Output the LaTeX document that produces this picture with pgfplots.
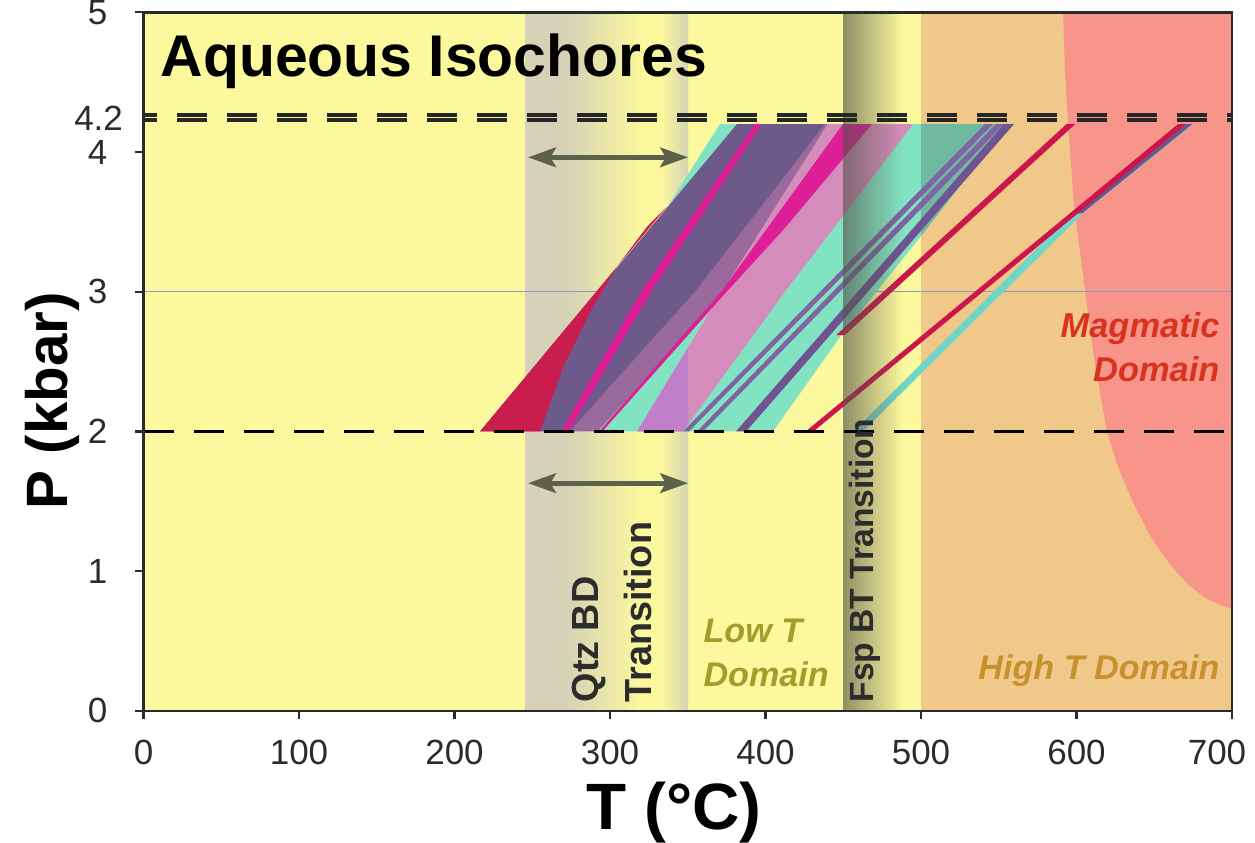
\documentclass[border=0pt]{standalone}
\usepackage{fontspec}
\setmainfont{Liberation Sans}
\usepackage{pgfplots}
\pgfplotsset{compat=1.18}
\usetikzlibrary{arrows.meta}

\definecolor{bgy}{HTML}{FBF89D}
\definecolor{qgray}{HTML}{D5D2B7}
\definecolor{qgrayb}{HTML}{D6D3B5}
\definecolor{hiT}{HTML}{F0C98A}
\definecolor{magm}{HTML}{F8958A}
\definecolor{fspc}{HTML}{55534A}
\definecolor{redw}{HTML}{C91D4D}
\definecolor{purg}{HTML}{6D5A8A}
\definecolor{mage}{HTML}{DD1E96}
\definecolor{mauv}{HTML}{9A6A9C}
\definecolor{cpink}{HTML}{D48DBB}
\definecolor{lilac}{HTML}{C27FC9}
\definecolor{mint}{HTML}{82E3C2}
\definecolor{teal2}{HTML}{6FB9A3}
\definecolor{purl}{HTML}{7E64A2}
\definecolor{purd}{HTML}{6E5490}
\definecolor{redl}{HTML}{CC154B}
\definecolor{cyanl}{HTML}{72D6C6}
\definecolor{gline}{HTML}{8D9BC4}
\definecolor{axc}{HTML}{2A2A2A}
\definecolor{tickc}{HTML}{2B2B2B}
\definecolor{arrc}{HTML}{5D614A}
\definecolor{lowc}{HTML}{A39D2B}
\definecolor{hightc}{HTML}{C8912E}
\definecolor{magc}{HTML}{D9331F}
\definecolor{txtd}{HTML}{2C2C2C}

\begin{document}
\begin{tikzpicture}
\begin{axis}[name=ax, at={(0,0)}, anchor=south west,
  width=391.86pt, height=251.5pt, scale only axis,
  xmin=0, xmax=700, ymin=0, ymax=5,
  xtick={0,100,200,300,400,500,600},
  extra x ticks={700}, extra x tick labels={700},
  extra x tick style={xticklabel style={xshift=-5.4pt}},
  ytick={0,1,2,3,4,5},
  extra y ticks={4.244}, extra y tick labels={4.2},
  extra y tick style={major tick length=0pt, yticklabel style={xshift=2.6pt}},
  tick align=outside, xtick pos=bottom, ytick pos=left,
  major tick length=3pt,
  tick style={line width=0.8pt, color=axc},
  axis line style={line width=0.9pt, color=axc},
  /pgf/number format/assume math mode=true,
  tick label style={font=\fontsize{12.6}{14}\selectfont, text=tickc},
  xticklabel style={anchor=base, yshift=-16.44pt},
  yticklabel style={anchor=east, inner sep=0pt, xshift=-9.8pt},
  clip=false, axis on top=true,
]
% ---------- background domains ----------
\addplot[draw=none, fill=bgy] coordinates {(0,0) (0,5) (500,5) (500,0)} --cycle;
\addplot[draw=none, fill=qgray] coordinates {(245.3,0) (245.3,5) (272,5) (272,0)} --cycle;
\addplot[draw=none, left color=qgray, right color=bgy] coordinates {(272,0) (272,5) (320,5) (320,0)} --cycle;
\addplot[draw=none, left color=bgy, right color=qgrayb] coordinates {(333,0) (333,5) (350.2,5) (350.2,0)} --cycle;
\addplot[draw=none, fill=hiT] coordinates {(500,0) (500,5) (700,5) (700,0)} --cycle;
\addplot[draw=none, fill=magm] coordinates {(591.3,5) (592.5,4.6) (594.5,4.2) (598.5,3.6) (605.6,3) (611.5,2.5) (619.6,2) (626.5,1.75) (636,1.5) (647.5,1.25) (660,1.05) (672,0.9) (684,0.8) (693,0.755) (700,0.73) (700,5)} --cycle;
% grid line at 3 kbar
\addplot[color=gline, line width=0.55pt] coordinates {(0,3) (700,3)};
% ---------- isochore bands ----------
\addplot[draw=none, fill=mint] coordinates {(291.6,2) (404.8,2) (447.9,2.676) (499.4,3.39) (556,4.2) (431.2,4.2) (353.9,3)} --cycle;
\addplot[draw=none, fill=mint] coordinates {(337,3.61) (384,4.2) (370.7,4.2)} --cycle;
\addplot[draw=none, fill=purg] coordinates {(216.4,2) (277.5,2) (357.9,3) (444.7,4.2) (381.7,4.2)} --cycle;
\addplot[draw=none, fill=mauv] coordinates {(274,2) (292,2) (374,3) (467.2,4.2) (438.3,4.2) (354.7,3)} --cycle;
\addplot[draw=none, fill=cpink] coordinates {(317.4,2) (346.9,2) (412.5,3) (494.9,4.2) (440,4.2) (372,3)} --cycle;
\addplot[draw=none, fill=lilac] coordinates {(317.4,2) (346.9,2) (350.2,2.05) (350.2,2.6)} --cycle;
\addplot[draw=none, fill=mage] coordinates {(293,2) (295,2) (375,3) (412,3.45) (468.5,4.2) (449.8,4.2) (371.5,3)} --cycle;
\addplot[draw=none, fill=mage] coordinates {(268.5,2) (273.5,2) (326.5,3) (397.7,4.2) (393.2,4.2) (320,3)} --cycle;
\addplot[draw=none, fill=redw] coordinates {(216.4,2) (255,2) (269.8,2.46) (287,2.85) (304.5,3.18) (323.8,3.465) (336.7,3.61)} --cycle;
\addplot[draw=none, fill=teal2] coordinates {(500,3.40) (556,4.2) (500,4.2)} --cycle;
\addplot[draw=none, fill=purl] coordinates {(346.9,2) (350.7,2) (546.3,4.2) (541.2,4.2)} --cycle;
\addplot[draw=none, fill=purl] coordinates {(355.9,2) (359.8,2) (553.4,4.2) (548.2,4.2)} --cycle;
\addplot[draw=none, fill=purd] coordinates {(381,2) (387.5,2) (559.8,4.2) (553.4,4.2)} --cycle;
\addplot[draw=none, fill=redl] coordinates {(445.5,2.69) (451,2.69) (599.2,4.2) (593.6,4.2)} --cycle;
\addplot[draw=none, fill=cyanl] coordinates {(456.5,2) (462.5,2) (604,3.56) (675,4.2) (667,4.2) (597,3.56)} --cycle;
\addplot[draw=none, fill=purd] coordinates {(599.5,3.56) (603.5,3.56) (674.5,4.2) (670,4.2)} --cycle;
\addplot[draw=none, fill=redl] coordinates {(425.8,2) (430.8,2) (670.5,4.2) (665.3,4.2)} --cycle;
% ---------- Fsp BT transition shading (overlay) ----------
\addplot[draw=none, fill=fspc, fill opacity=0.620] coordinates {(450,0) (450,5) (452,5) (452,0)} --cycle;
\addplot[draw=none, fill=fspc, fill opacity=0.587] coordinates {(452,0) (452,5) (454,5) (454,0)} --cycle;
\addplot[draw=none, fill=fspc, fill opacity=0.555] coordinates {(454,0) (454,5) (456,5) (456,0)} --cycle;
\addplot[draw=none, fill=fspc, fill opacity=0.522] coordinates {(456,0) (456,5) (458,5) (458,0)} --cycle;
\addplot[draw=none, fill=fspc, fill opacity=0.489] coordinates {(458,0) (458,5) (460,5) (460,0)} --cycle;
\addplot[draw=none, fill=fspc, fill opacity=0.457] coordinates {(460,0) (460,5) (462,5) (462,0)} --cycle;
\addplot[draw=none, fill=fspc, fill opacity=0.424] coordinates {(462,0) (462,5) (464,5) (464,0)} --cycle;
\addplot[draw=none, fill=fspc, fill opacity=0.392] coordinates {(464,0) (464,5) (466,5) (466,0)} --cycle;
\addplot[draw=none, fill=fspc, fill opacity=0.359] coordinates {(466,0) (466,5) (468,5) (468,0)} --cycle;
\addplot[draw=none, fill=fspc, fill opacity=0.326] coordinates {(468,0) (468,5) (470,5) (470,0)} --cycle;
\addplot[draw=none, fill=fspc, fill opacity=0.294] coordinates {(470,0) (470,5) (472,5) (472,0)} --cycle;
\addplot[draw=none, fill=fspc, fill opacity=0.261] coordinates {(472,0) (472,5) (474,5) (474,0)} --cycle;
\addplot[draw=none, fill=fspc, fill opacity=0.228] coordinates {(474,0) (474,5) (476,5) (476,0)} --cycle;
\addplot[draw=none, fill=fspc, fill opacity=0.196] coordinates {(476,0) (476,5) (478,5) (478,0)} --cycle;
\addplot[draw=none, fill=fspc, fill opacity=0.163] coordinates {(478,0) (478,5) (480,5) (480,0)} --cycle;
\addplot[draw=none, fill=fspc, fill opacity=0.131] coordinates {(480,0) (480,5) (482,5) (482,0)} --cycle;
\addplot[draw=none, fill=fspc, fill opacity=0.098] coordinates {(482,0) (482,5) (484,5) (484,0)} --cycle;
\addplot[draw=none, fill=fspc, fill opacity=0.065] coordinates {(484,0) (484,5) (486,5) (486,0)} --cycle;
\addplot[draw=none, fill=fspc, fill opacity=0.033] coordinates {(486,0) (486,5) (488,5) (488,0)} --cycle;
% ---------- dashed pressure limits ----------
\addplot[color=black, line width=1.3pt, dash pattern=on 10.8pt off 7.2pt] coordinates {(0,2) (700,2)};
\addplot[color=black!85, line width=1.15pt, dash pattern=on 10.8pt off 7.2pt, dash phase=5.8pt] coordinates {(0,4.229) (700,4.229)};
\addplot[color=black!85, line width=1.15pt, dash pattern=on 10.8pt off 7.2pt, dash phase=5.8pt] coordinates {(0,4.265) (700,4.265)};
% ---------- arrows ----------
\addplot[color=arrc, line width=1.8pt, {Stealth[length=10pt,width=7pt,inset=2pt]}-{Stealth[length=10pt,width=7pt,inset=2pt]}] coordinates {(247.3,3.962) (350.2,3.962)};
\addplot[color=arrc, line width=1.8pt, {Stealth[length=10pt,width=7pt,inset=2pt]}-{Stealth[length=10pt,width=7pt,inset=2pt]}] coordinates {(247.3,1.63) (350.2,1.63)};
% ---------- texts ----------
\node[anchor=base west, inner sep=0pt, font=\fontsize{21.2}{24}\selectfont\bfseries, text=black] at (axis cs:10.6,4.537) {Aqueous Isochores};
\node[rotate=90, anchor=base west, inner sep=0pt, font=\fontsize{13.6}{16}\selectfont\bfseries, text=txtd] at (axis cs:292.9,0.057) {Qtz BD};
\node[rotate=90, anchor=base west, inner sep=0pt, font=\fontsize{13.6}{16}\selectfont\bfseries, text=txtd] at (axis cs:326.4,0.057) {Transition};
\node[rotate=90, anchor=base west, inner sep=0pt, font=\fontsize{12.1}{14}\selectfont\bfseries, text=txtd] at (axis cs:469.3,0.057) {Fsp BT Transition};
\node[anchor=base west, inner sep=0pt, font=\fontsize{12.3}{14}\selectfont\bfseries\itshape, text=lowc] at (axis cs:359.8,0.487) {Low T};
\node[anchor=base west, inner sep=0pt, font=\fontsize{12.3}{14}\selectfont\bfseries\itshape, text=lowc] at (axis cs:359.8,0.172) {Domain};
\node[anchor=base east, inner sep=0pt, font=\fontsize{12.3}{14}\selectfont\bfseries\itshape, text=hightc] at (axis cs:692.3,0.222) {High T Domain};
\node[anchor=base east, inner sep=0pt, font=\fontsize{12.4}{14}\selectfont\bfseries\itshape, text=magc] at (axis cs:692.3,2.676) {Magmatic};
\node[anchor=base east, inner sep=0pt, font=\fontsize{12.4}{14}\selectfont\bfseries\itshape, text=magc] at (axis cs:692.3,2.354) {Domain};
\node[rotate=90, anchor=base, inner sep=0pt, font=\fontsize{21}{25}\selectfont\bfseries, text=black] at (axis cs:-48.6,2.22) {P (kbar)};
\node[anchor=base, inner sep=0pt, font=\fontsize{23.6}{27}\selectfont\bfseries, text=black] at (axis cs:341.2,-0.852) {T (°C)};
\end{axis}
\pgfresetboundingbox
\path[use as bounding box] ([xshift=-51.66pt,yshift=-47.52pt]ax.south west) rectangle ([xshift=8.28pt,yshift=4.43pt]ax.north east);
\end{tikzpicture}
\end{document}
